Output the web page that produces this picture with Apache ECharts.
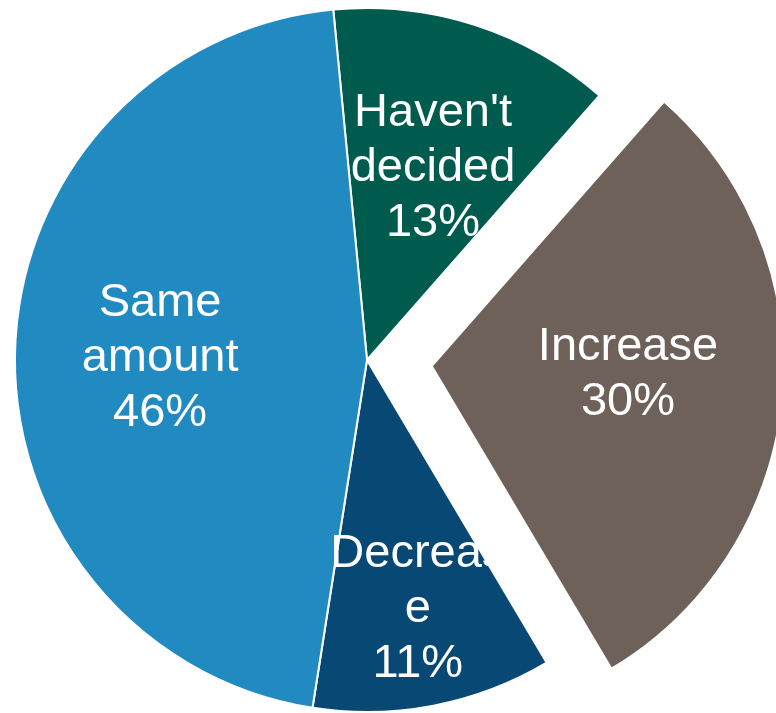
<!DOCTYPE html>
<html>
<head>
<meta charset="utf-8">
<script src="https://cdn.jsdelivr.net/npm/echarts@6/dist/echarts.min.js"></script>
<style>html,body{margin:0;padding:0;background:#fff;}#c{width:776px;height:713px;}</style>
</head>
<body>
<div id="c"></div>
<script>
var categories = ["Haven't decided", "Increase", "Decrease", "Same amount"];
var labelLines = [["Haven't", "decided"], ["Increase"], ["Decreas", "e"], ["Same", "amount"]];
var values = [13, 30, 11, 46];
var colors = ['#005B4F', '#6D615A', '#084874', '#218BC1'];
var labelOffsets = [[11, -22], [18, -8], [17, 73], [-28, 3]];
var explodedIndex = 1;

var chart = echarts.init(document.getElementById('c'), null, {renderer: 'canvas'});
var data = categories.map(function (c, i) {
  return {
    name: c,
    value: values[i],
    selected: i === explodedIndex,
    itemStyle: {color: colors[i]},
    label: {
      offset: labelOffsets[i],
      formatter: labelLines[i].join('\n') + '\n' + values[i] + '%'
    },
    select: {label: {offset: labelOffsets[i]}}
  };
});
chart.setOption({
  animation: false,
  series: [{
    type: 'pie',
    center: [367, 360],
    radius: [0, 352],
    startAngle: 95.5,
    clockwise: true,
    selectedMode: 'single',
    selectedOffset: 65,
    avoidLabelOverlap: false,
    itemStyle: {borderColor: '#ffffff', borderWidth: 2},
    select: {itemStyle: {borderColor: '#ffffff', borderWidth: 2}},
    emphasis: {disabled: true},
    labelLine: {show: false},
    label: {
      show: true,
      position: 'inside',
      color: '#ffffff',
      fontFamily: 'Liberation Sans, Arial, sans-serif',
      fontSize: 47,
      lineHeight: 55,
      align: 'center',
      verticalAlign: 'middle',
      textBorderWidth: 0
    },
    data: data
  }]
});
</script>
</body>
</html>
